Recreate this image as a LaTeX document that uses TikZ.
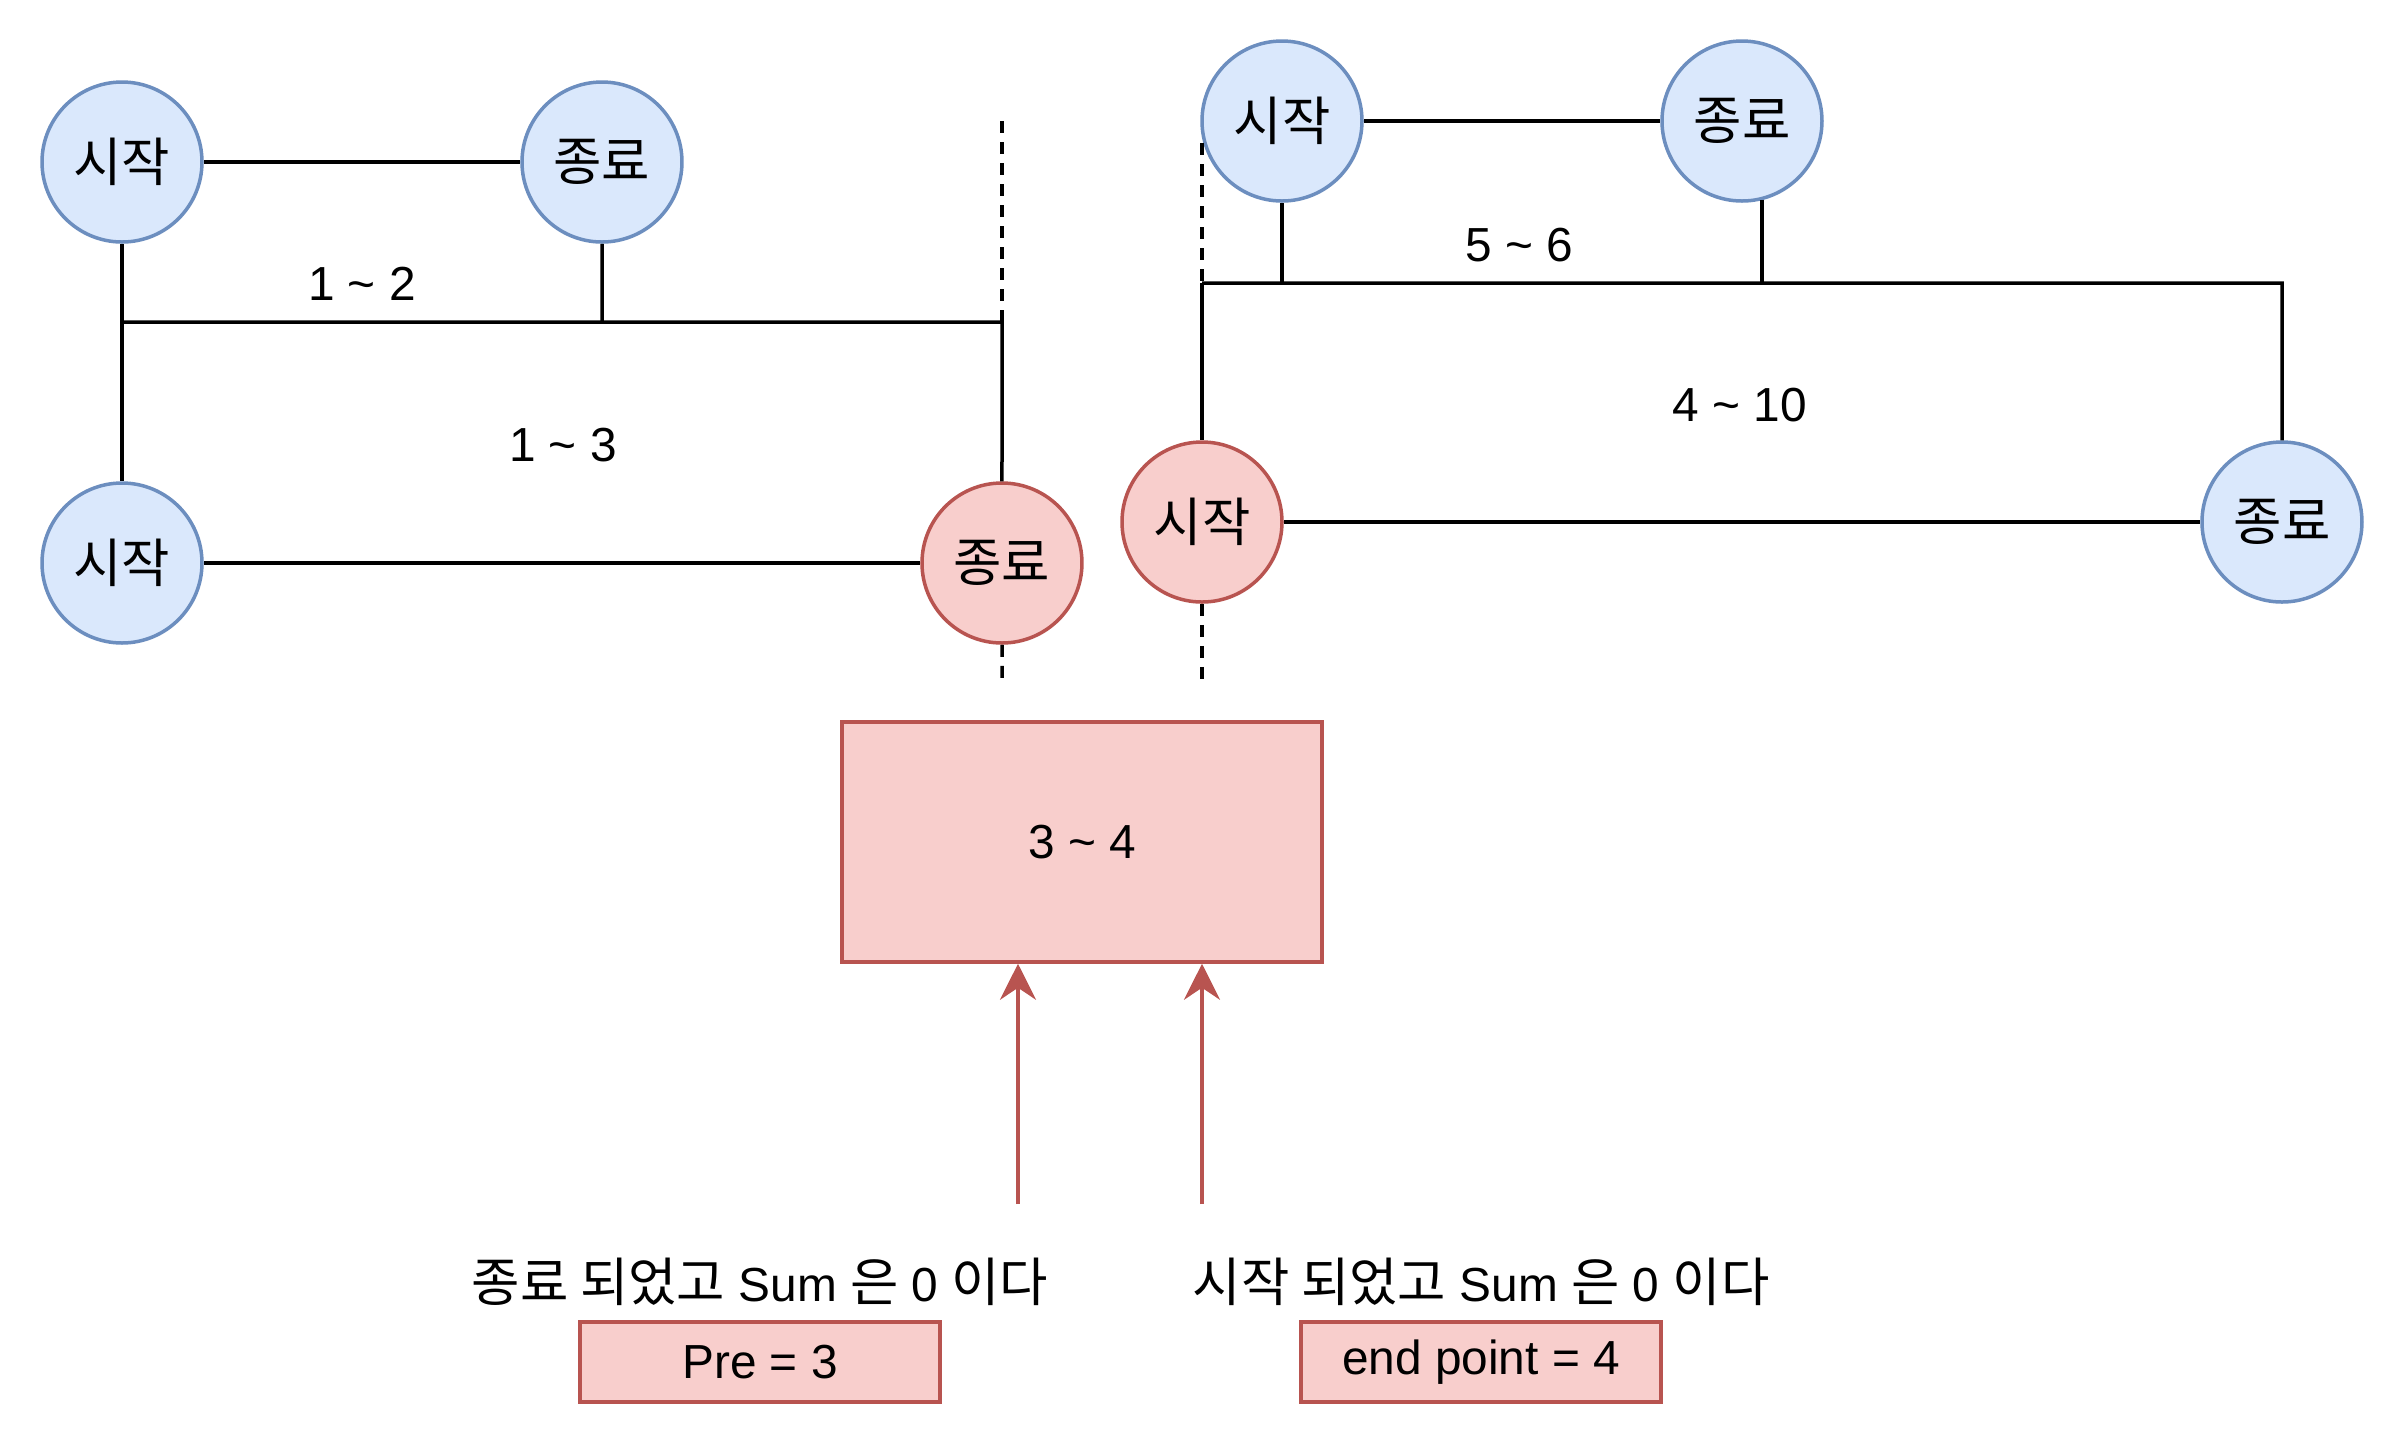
\documentclass[tikz,border=0pt]{standalone}
\usepackage{fontspec}
\setmainfont{Liberation Sans}
\newfontfamily\krfont[Scale=1.1]{Noto Sans CJK KR}
\usetikzlibrary{positioning,arrows.meta}

\definecolor{bluefill}{HTML}{DAE8FC}
\definecolor{blueline}{HTML}{6C8EBF}
\definecolor{redfill}{HTML}{F8CECC}
\definecolor{redline}{HTML}{B85450}
\newcommand{\til}{\textasciitilde}

\begin{document}
\begin{tikzpicture}[x=0.1mm, y=-0.1mm, line width=0.35mm, on grid, font=\fontsize{13.6pt}{16pt}\selectfont,
  circ/.style={circle, draw=blueline, fill=bluefill, minimum size=16mm, inner sep=0pt},
  hotcirc/.style={circ, draw=redline, fill=redfill},
  hotbox/.style={rectangle, draw=redline, fill=redfill, inner sep=0pt},
  guide/.style={dash pattern=on 1.2mm off 0.9mm},
  arr/.style={draw=redline, -{Stealth[length=3.6mm, width=3.6mm, inset=1.2mm]}}]

  \useasboundingbox (0,0) rectangle (2404,1444);

  % left group
  \node[circ] (start1) at (122,162) {\krfont 시작};
  \node[circ, right=48.0mm of start1] (end1) {\krfont 종료};
  \node[circ, below=40.1mm of start1] (start2) {\krfont 시작};
  \node[hotcirc, right=88.0mm of start2] (end2) {\krfont 종료};
  \coordinate (j1) at (122,322);
  \coordinate (j2) at (602,322);
  \coordinate (j3) at (1002,322);
  \coordinate (g1) at (1002,121);
  \coordinate (g2) at (1002,682);

  \draw (start1) -- (end1);
  \draw (start1) -- (start2);
  \draw (end1) -- (j2);
  \draw (j1) -- (j3) -- (end2);
  \draw (start2) -- (end2);
  \draw[guide] (g1) -- (j3);
  \draw[guide] (end2) -- (g2);
  \node (lab1) at (362,284) {1 \til{} 2};
  \node (lab2) at (563,445) {1 \til{} 3};

  % right group
  \node[circ] (start3) at (1282,121) {\krfont 시작};
  \node[circ, right=46.0mm of start3] (end3) {\krfont 종료};
  \node[hotcirc] (start4) at (1202,522) {\krfont 시작};
  \node[circ, right=108.0mm of start4] (end4) {\krfont 종료};
  \coordinate (k1) at (1202,283);
  \coordinate (k3) at (2282,283);
  \coordinate (g3) at (1202,143);
  \coordinate (g4) at (1202,682);

  \draw (start3) -- (end3);
  \draw (start3) -- (start3 |- k1);
  \draw (end3.-76) -- (end3.-76 |- k1);
  \draw (k1) -- (k3) -- (end4);
  \draw (k1) -- (start4);
  \draw (start4) -- (end4);
  \draw[guide] (g3) -- (k1);
  \draw[guide] (start4) -- (g4);
  \node (lab3) at (1519,245) {5 \til{} 6};
  \node (lab4) at (1740,405) {4 \til{} 10};

  % overlap and the two events
  \node[hotbox, minimum width=48mm, minimum height=24mm] (range) at (1082,842) {3 \til{} 4};
  \node (msg1) at (760,1282) {{\krfont 종료 되었고} Sum {\krfont 은} 0 {\krfont 이다}};
  \node[hotbox, minimum width=36mm, minimum height=8mm, below=8mm of msg1] (pre) {Pre = 3};
  \node (msg2) at (1481,1282) {{\krfont 시작 되었고} Sum {\krfont 은} 0 {\krfont 이다}};
  \node[hotbox, minimum width=36mm, minimum height=8mm, below=8mm of msg2] (endpt) {end point = 4};
  \coordinate (a1) at (1018,1204);
  \coordinate (a2) at (1202,1204);
  \draw[arr] (a1) -- (a1 |- range.south);
  \draw[arr] (a2) -- (a2 |- range.south);
\end{tikzpicture}
\end{document}
